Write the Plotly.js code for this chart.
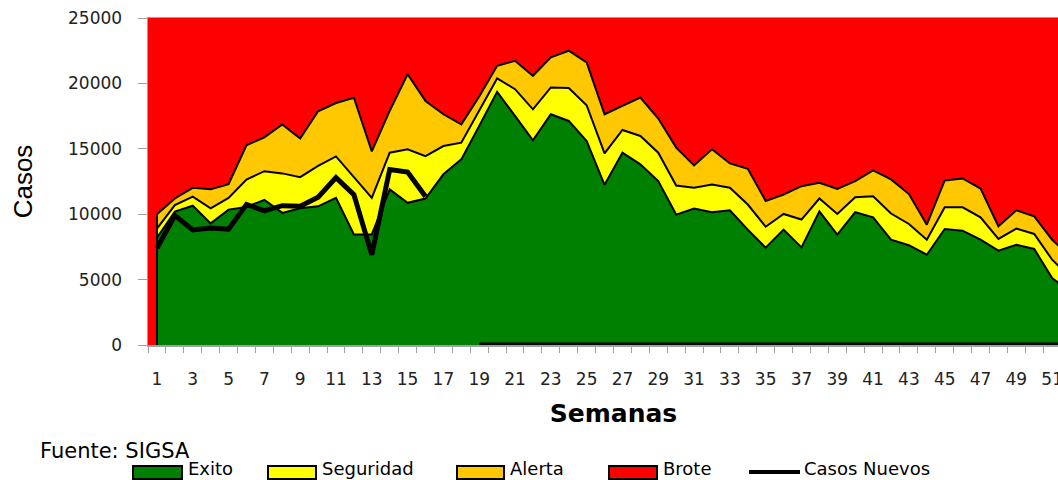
<!DOCTYPE html>
<html>
<head>
<meta charset="utf-8">
<script src="https://cdn.plot.ly/plotly-3.0.1.min.js"></script>
<style>
html, body { margin: 0; padding: 0; overflow: hidden; background: #ffffff; }
#chart { width: 1080px; height: 480px; }
</style>
</head>
<body>
<div id="chart"></div>
<script>
// ---- Data ----
const semanas = [1,2,3,4,5,6,7,8,9,10,11,12,13,14,15,16,17,18,19,20,21,22,23,24,25,26,
                 27,28,29,30,31,32,33,34,35,36,37,38,39,40,41,42,43,44,45,46,47,48,49,50,51,52];

// upper limit of each zone of the endemic channel
const exito = [8200,10200,10650,9300,10350,10550,11100,10100,10450,10600,11250,8450,8450,11900,10870,11200,
               13050,14190,16740,19350,17510,15650,17640,17130,15600,12250,14700,13810,12530,9970,10430,10150,
               10300,8820,7440,8820,7460,10220,8440,10150,9760,8050,7630,6900,8870,8740,8050,7210,7670,7340,5120,4100];
const seguridad = [8900,10700,11350,10450,11250,12650,13290,13120,12830,13700,14420,12800,11250,14700,14960,14440,
                   15210,15470,17900,20380,19560,18020,19690,19640,18330,14650,16440,15980,14700,12190,12020,12270,
                   12020,10740,9040,10020,9590,11200,10020,11300,11370,10050,9250,8050,10530,10530,9760,8110,8900,8490,6520,5200];
const alerta = [10000,11200,12020,11900,12300,15270,15880,16860,15780,17870,18500,18900,14800,17900,20700,18660,
                17640,16870,19000,21350,21730,20580,21990,22500,21610,17640,18280,18920,17310,15090,13730,14960,
                13880,13470,11010,11500,12140,12400,11930,12530,13350,12660,11540,9200,12580,12730,11960,9070,10300,9840,8050,6800];
const brote = [25000,25000,25000,25000,25000,25000,25000,25000,25000,25000,25000,25000,25000,25000,25000,25000,
               25000,25000,25000,25000,25000,25000,25000,25000,25000,25000,25000,25000,25000,25000,25000,25000,
               25000,25000,25000,25000,25000,25000,25000,25000,25000,25000,25000,25000,25000,25000,25000,25000,
               25000,25000,25000,25000];
const casosNuevos = [7400,9900,8800,8950,8850,10750,10250,10650,10600,11300,12800,11500,6900,13420,13220,11350,
                     null,null,0,0,0,0,0,0,0,0,0,0,0,0,0,0,0,0,0,0,0,0,0,0,0,0,0,0,0,0,0,0,0,0,0,0];

const etiquetasSemana = [1,3,5,7,9,11,13,15,17,19,21,23,25,27,29,31,33,35,37,39,41,43,45,47,49,51];
const ticksCasos = [0,5000,10000,15000,20000,25000];

const nombres = ['Exito','Seguridad','Alerta','Brote','Casos Nuevos'];
const colores = { Exito:'#008000', Seguridad:'#FFFF00', Alerta:'#FFC800', Brote:'#FF0000' };

// ---- Traces ----
const traces = [
  { x: semanas, y: exito, name: nombres[0], type: 'scatter', mode: 'lines', fill: 'tozeroy',
    fillcolor: colores.Exito, line: { color: '#000000', width: 2 } },
  { x: semanas, y: seguridad, name: nombres[1], type: 'scatter', mode: 'lines', fill: 'tonexty',
    fillcolor: colores.Seguridad, line: { color: '#000000', width: 2 } },
  { x: semanas, y: alerta, name: nombres[2], type: 'scatter', mode: 'lines', fill: 'tonexty',
    fillcolor: colores.Alerta, line: { color: '#000000', width: 2 } },
  { x: semanas, y: brote, name: nombres[3], type: 'scatter', mode: 'lines', fill: 'tonexty',
    fillcolor: colores.Brote, line: { color: 'rgba(0,0,0,0)', width: 0 } },
  { x: semanas, y: casosNuevos, name: nombres[4], type: 'scatter', mode: 'lines', connectgaps: false,
    line: { color: '#000000', width: 5 } }
];

// ---- Layout helpers (pixel -> paper) ----
const ML = 148, MT = 18, FW = 1080, FH = 480, MR = 1, MB = 135;
const PW = FW - ML - MR, PH = FH - MT - MB;
const px = v => (v - ML) / PW;
const py = v => (FH - MB - v) / PH;

const legendItems = [
  { name: nombres[0], x0: 133, x1: 182, tx: 186 },
  { name: nombres[1], x0: 268, x1: 316, tx: 320 },
  { name: nombres[2], x0: 457, x1: 504, tx: 508 },
  { name: nombres[3], x0: 609, x1: 657, tx: 661 }
];
const legendTextY = 468;

const shapes = [
  // left closing edge of the stacked areas at the first week
  { type: 'line', xref: 'x', yref: 'y', x0: semanas[0], x1: semanas[0], y0: 0, y1: alerta[0],
    line: { color: '#000000', width: 2 } }
];
const annotations = [
  { text: 'Fuente: SIGSA', xref: 'paper', yref: 'paper', x: px(38), y: py(451), xanchor: 'left', yanchor: 'middle',
    showarrow: false, font: { family: 'DejaVu Sans', size: 21, color: '#000000' } }
];
legendItems.forEach(it => {
  shapes.push({ type: 'rect', xref: 'paper', yref: 'paper', x0: px(it.x0), x1: px(it.x1), y0: py(479), y1: py(466),
    fillcolor: colores[it.name], line: { color: '#000000', width: 2 } });
  annotations.push({ text: it.name, xref: 'paper', yref: 'paper', x: px(it.tx), y: py(legendTextY), xanchor: 'left',
    yanchor: 'middle', showarrow: false, font: { family: 'DejaVu Sans', size: 18, color: '#000000' } });
});
shapes.push({ type: 'line', xref: 'paper', yref: 'paper', x0: px(749), x1: px(800), y0: py(472), y1: py(472),
  line: { color: '#000000', width: 4 } });
annotations.push({ text: nombres[4], xref: 'paper', yref: 'paper', x: px(802), y: py(legendTextY), xanchor: 'left',
  yanchor: 'middle', showarrow: false, font: { family: 'DejaVu Sans', size: 18, color: '#000000' } });

const layout = {
  width: FW, height: FH,
  margin: { l: ML, r: MR, t: MT, b: MB, pad: 0 },
  paper_bgcolor: '#ffffff',
  plot_bgcolor: colores.Brote,
  showlegend: false,
  xaxis: {
    range: [0.5, 52.5],
    tickmode: 'array', tickvals: etiquetasSemana, ticktext: etiquetasSemana.map(String),
    ticks: '', showgrid: false, zeroline: false,
    showline: true, linecolor: '#a0a0a0', linewidth: 1.5, mirror: true,
    tickfont: { family: 'DejaVu Sans', size: 17, color: '#222222' },
    ticklabelstandoff: 18,
    minor: { tickmode: 'linear', tick0: 0.5, dtick: 1, ticks: 'outside', ticklen: 6,
             tickcolor: '#a0a0a0', tickwidth: 1, showgrid: false },
    title: { text: 'Semanas', standoff: 16,
             font: { family: 'DejaVu Sans', size: 25, color: '#000000', weight: 'bold' } }
  },
  yaxis: {
    range: [0, 25000],
    tickmode: 'array', tickvals: ticksCasos, ticktext: ticksCasos.map(String),
    ticks: 'outside', ticklen: 9, tickcolor: '#a0a0a0', tickwidth: 1,
    showgrid: false, zeroline: false,
    showline: true, linecolor: '#a0a0a0', linewidth: 1.5, mirror: true,
    tickfont: { family: 'DejaVu Sans', size: 17, color: '#222222' },
    ticklabelstandoff: 12,
    title: { text: 'Casos', standoff: 28,
             font: { family: 'Liberation Sans', size: 26, color: '#000000' } }
  },
  shapes: shapes,
  annotations: annotations
};

Plotly.newPlot('chart', traces, layout, { displayModeBar: false, staticPlot: true });
</script>
</body>
</html>
